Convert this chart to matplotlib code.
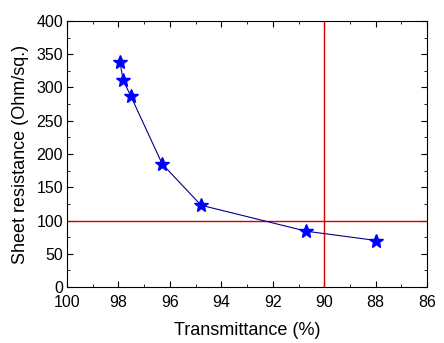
import matplotlib
matplotlib.use("Agg")
import matplotlib.pyplot as plt
from matplotlib.ticker import MultipleLocator

plt.rcParams['font.family'] = ['Liberation Sans', 'DejaVu Sans']

# data
transmittance = [97.94, 97.82, 97.52, 96.3, 94.79, 90.7, 87.98]
sheet_res = [338, 311, 287, 185, 123, 84, 70]
ref_t = 90
ref_r = 100

fig = plt.figure(figsize=(4.44, 3.43), dpi=100)
ax = fig.add_axes([0.151, 0.163, 0.811, 0.776])

ax.axvline(ref_t, color='#d00000', lw=1)
ax.axhline(ref_r, color='#d00000', lw=1)
ax.plot(transmittance, sheet_res, color='#00008b', lw=0.8, marker='*',
        markersize=10, markerfacecolor='#0000ff', markeredgecolor='#0000ff')

ax.set_xlim(100, 86)
ax.set_ylim(0, 400)
ax.xaxis.set_major_locator(MultipleLocator(2))
ax.xaxis.set_minor_locator(MultipleLocator(1))
ax.yaxis.set_major_locator(MultipleLocator(50))
ax.yaxis.set_minor_locator(MultipleLocator(25))
ax.tick_params(which='both', direction='in', top=True, right=True, labelsize=11.5)
ax.tick_params(which='major', length=4)
ax.tick_params(which='minor', length=2)
ax.tick_params(axis='x', which='major', pad=6)
ax.tick_params(axis='y', which='major', pad=3)

ax.set_xlabel('Transmittance (%)', fontsize=13, labelpad=8)
ax.set_ylabel('Sheet resistance (Ohm/sq.)', fontsize=13, labelpad=5)

fig.savefig('out.png', dpi=100)
